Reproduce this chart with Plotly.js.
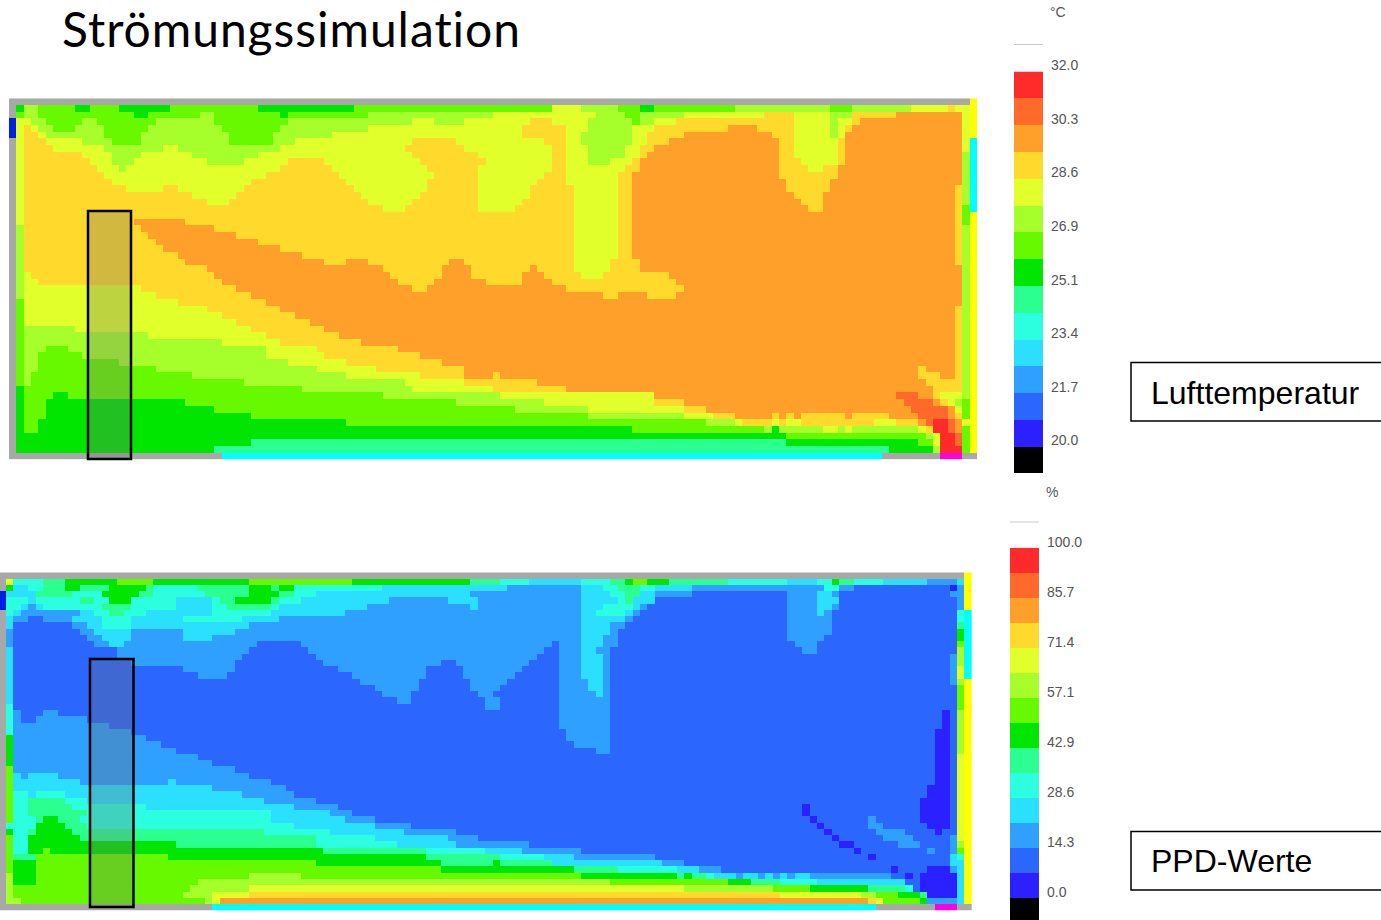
<!DOCTYPE html>
<html><head><meta charset="utf-8">
<script src="https://cdn.plot.ly/plotly-3.0.1.min.js"></script>
<style>html,body{margin:0;padding:0;background:#fff;overflow:hidden}#chart{width:1381px;height:920px}svg text{font-variant-ligatures:none;font-feature-settings:"liga" 0,"clig" 0,"dlig" 0,"calt" 0;letter-spacing:0.01px}.annotation[data-index="0"] text{letter-spacing:0.95px}</style>
</head><body><div id="chart"></div>
<script>
// Palette: a=black, b..o = 14 legend classes, z..v = wall/boundary colours
const LEVEL_LETTERS = "abcdefghijklmnozyxwv";
const LEVEL_COLORS = ["#000000","#2B20FF","#2B66FF","#2FA0FF","#2BE0FF","#2BFFE0","#2BFF90","#00E600","#66F900","#A6FF2B","#E0FF2B","#FFD92B","#FFA02B","#FF6A2B","#FF2B2B","#A8A8A8","#0020E0","#00FFFF","#FFFF00","#FF00E0"];
const COLS = 132;

// Each row: class letter followed by the column where that class starts
const airTemperatureRows = [
"z0 w131",
"z0 h1 j2 i4 h9 i11 h15 i22 h34 i47 k74 j78 i83 h86 i88 j99 i112 j115 k123 l128 k129 w131",
"z0 i1 j2 i4 h17 i19 j26 i28 h37 i38 j49 k66 j80 i84 j86 k92 l103 k107 j112 l115 m121 k130 w131",
"y0 k1 j3 i5 j10 i12 j20 i28 j38 k55 j58 k62 l71 k74 j79 i85 j86 k88 l91 k107 j112 k113 l115 m116 k130 w131",
"y0 k1 l2 k3 j4 i6 j9 i13 j19 i29 j37 k49 l70 k76 j79 k85 l88 m98 l102 k107 j112 k113 l114 m115 k130 w131",
"y0 k1 l2 k4 j5 i13 j18 i30 j36 k44 l70 k76 j78 k85 l87 m92 l104 k107 j112 k113 m114 k130 w131",
"z0 k1 l2 k5 j10 i14 j18 i30 j36 k39 l55 k61 l73 k76 j78 k85 l87 m90 l105 k107 l113 m114 k130 x131",
"z0 k1 l2 k6 j13 k21 j23 k37 l54 k62 l74 k76 j79 k84 l86 m88 l105 k107 l113 m114 k130 x131",
"z0 k1 l2 k10 j14 k18 j25 k34 l55 k64 l74 k76 j79 k84 l86 m87 l105 k107 l113 m114 j130 x131",
"z0 k1 l2 k11 j14 k17 j27 k32 l38 k43 l56 k65 l74 k76 j79 k82 l85 m86 l105 k108 l113 m114 j130 x131",
"z0 k1 l2 k12 j15 k16 l37 k44 l57 k64 l74 k76 l84 m86 l105 k109 l111 m113 j130 x131",
"z0 k1 l2 k13 l35 k45 l58 k64 l73 k76 l83 m85 l105 m113 j130 x131",
"z0 k1 l2 k14 l33 k46 l57 k64 l72 k76 l83 m85 l106 m112 j130 x131",
"z0 k1 l2 k16 l21 k23 l32 k47 l57 k64 l71 k77 l83 m85 l106 m112 l129 j130 x131",
"z0 k1 l2 k25 l31 k48 l56 k64 l71 k77 l83 m85 l107 m111 l129 j130 x131",
"z0 k1 l2 k27 l30 k49 l55 k64 l70 k77 l83 m85 l108 m111 l129 j130 x131",
"z0 k1 l2 k51 l54 k64 l69 k77 l83 m85 l109 m111 l129 i130 x131",
"z0 k1 l2 k77 l83 m85 l129 i130 w131",
"z0 k1 l2 m17 l24 k77 l83 m85 l129 i130 w131",
"z0 j1 l2 m18 l28 k77 l83 m85 l129 j130 w131",
"z0 j1 l2 m19 l31 k77 l83 m85 l129 j130 w131",
"z0 j1 l2 m20 l34 k77 l83 m85 l129 j130 w131",
"z0 j1 l2 m21 l37 k77 l83 m85 l129 j130 w131",
"z0 j1 l2 m23 l40 k77 l83 m85 l129 j130 w131",
"z0 j1 l2 m24 l43 m46 l49 m60 l62 k77 l82 m86 l129 j130 w131",
"z0 j1 l2 m27 l51 m59 l63 m71 l72 k77 l82 m86 j130 w131",
"z0 j1 k2 l3 m28 l52 m59 l63 m70 l73 k78 l81 m90 j130 w131",
"z0 j1 k2 l4 m29 l53 m58 l65 m70 l74 m91 j130 w131",
"z0 j1 k2 l18 m31 l55 m57 l76 m92 j130 w131",
"z0 j1 k2 l20 m33 l81 m83 l87 m91 j130 w131",
"z0 i1 k2 l23 m35 j130 w131",
"z0 i1 k2 l27 m37 l129 j130 w131",
"z0 i1 k2 l29 m39 l129 j130 w131",
"z0 i1 k2 l31 m41 l129 j130 w131",
"z0 i1 j2 k9 l33 m43 l129 j130 w131",
"z0 i1 j2 k19 l35 m45 l129 j130 w131",
"z0 i1 j2 k29 l37 m48 l129 j130 w131",
"z0 i1 j2 i5 j8 k35 l42 m53 l129 j130 w131",
"z0 i1 j2 i4 j10 k35 l43 m56 l129 j130 w131",
"z0 i1 j2 i4 j15 k38 l46 m59 l129 j130 w131",
"z0 i1 j2 i4 j20 k42 l50 m62 l124 m125 l129 j130 w131",
"z0 i1 j2 i3 j25 k46 l56 m62 l66 m67 l124 m127 l129 j130 w131",
"z0 i1 j2 i3 j32 k54 l62 m72 l125 j130 w131",
"z0 h1 i2 j40 k55 l66 m76 l126 j130 w131",
"z0 h1 i2 h6 i8 j51 k67 m88 n121 m124 l126 k127 j130 w131",
"z0 h1 i2 h5 i24 j61 k73 l88 m92 n122 m126 l127 k128 j129 i130 w131",
"z0 h1 i2 h5 i28 j69 k79 l92 m95 n123 m128 k129 i130 w131",
"z0 h1 i2 h5 i33 j79 k92 l96 m99 l104 m105 l106 m107 l108 m114 l115 m120 n124 m128 l129 i130 w131",
"z0 h1 i2 h4 i46 j95 k99 l100 k104 l105 k106 l108 k118 l121 m124 n125 o126 n128 m129 k130 w131",
"z0 h1 i2 h4 i85 j103 h104 j105 k111 j113 k114 j115 k124 l125 o126 n128 m129 i130 w131",
"z0 h1 i106 j125 k126 o127 n129 i130 w131",
"z0 h1 g33 h106 i124 k126 o127 n129 i130 w131",
"z0 h1 g28 h120 j126 o127 i130 w131",
"z0 x29 z119 v127 z130"
];

const ppdRows = [
"z0 w131",
"z0 k1 f2 g6 h9 i16 h21 i34 h48 g64 f68 e72 f79 g83 h85 i86 h88 g91 f99 e107 f111 h113 g114 f116 e120 d126 e130 w131",
"z0 h1 e2 f4 g6 h9 g11 h15 g20 f21 g27 h34 g37 h38 f40 e52 d69 e79 f82 g84 f87 e89 d94 f112 d114 c116 b129 d130 w131",
"y0 e1 g5 f10 h14 g19 f21 g28 h34 g38 f40 e43 d64 e79 f83 g85 e87 d89 c94 d107 e111 d113 c114 d129 w131",
"y0 f1 e4 f5 g11 f13 h15 f18 e24 f29 g30 h32 g37 f38 e41 d53 e61 d65 e79 f84 g85 e86 c89 d107 e111 c114 d130 w131",
"y0 f1 e3 d4 e5 f6 g14 f18 e24 f29 g31 f37 e38 d50 e64 d65 e79 f82 e86 d87 c88 d107 e111 d113 c114 d130 w131",
"z0 f1 e2 d3 e11 f13 g15 f17 e20 f29 e37 d47 e79 f81 e85 d86 c87 d107 e111 d112 c113 f130 x131",
"z0 e1 d2 c4 d6 e10 f14 e18 f25 e33 d38 e79 d85 c86 d107 c113 f130 x131",
"z0 e1 c2 d10 e12 f14 e18 d34 e79 d83 c85 d107 c113 g130 x131",
"z0 d1 c2 d11 e13 d18 e25 d32 e79 d83 c84 d107 c113 h130 x131",
"z0 d1 c2 d12 e14 d18 e25 d29 e79 d82 c84 d107 c112 h130 x131",
"z0 d1 c2 d13 e15 d17 c35 d41 c75 d76 e79 d82 c84 d108 c111 i130 x131",
"z0 e1 c2 d16 c34 d42 c74 d76 e79 d81 c83 d109 c111 j130 x131",
"z0 e1 c2 d16 c33 d43 c73 d76 e79 d82 c83 d129 j130 x131",
"z0 e1 c2 d18 c32 d44 c60 d62 c72 d76 e79 d82 c83 d129 j130 x131",
"z0 e1 c2 d25 c32 d46 c58 d63 c71 d76 e79 d82 c83 d129 k130 x131",
"z0 e1 c2 d27 c31 d48 c58 d63 c70 d76 e79 d82 c83 d129 k130 x131",
"z0 e1 c2 d49 c57 d64 c69 d76 e80 d82 c83 d129 j130 w131",
"z0 e1 c2 d51 c57 d64 c68 d76 e80 d82 c83 i130 w131",
"z0 e1 c2 d52 c56 d65 c67 d76 e81 d82 c83 i130 w131",
"z0 e1 c2 d54 c56 d66 c68 d76 c83 i130 w131",
"z0 f1 c2 d66 c68 d76 c83 i130 w131",
"z0 f1 d2 c3 d6 c8 d76 c83 b128 c129 j130 w131",
"z0 f1 d2 c3 d5 c12 d76 c83 b128 c129 j130 w131",
"z0 f1 d2 c15 d76 c83 b128 c129 j130 w131",
"z0 f1 d2 c18 d77 c83 b127 c129 j130 w131",
"z0 h1 d2 c20 d77 c83 b127 c129 j130 w131",
"z0 h1 d2 c22 d78 c83 b127 c129 j130 w131",
"z0 h1 d2 c24 d81 c83 b127 c129 j130 w131",
"z0 h1 d2 c27 b127 c129 k130 w131",
"z0 h1 d2 c29 b127 c129 k130 w131",
"z0 i1 d2 c32 b127 c129 k130 w131",
"z0 i1 e2 d3 e4 d8 c34 b127 c129 k130 w131",
"z0 i1 e2 d11 e23 d24 c37 b127 c129 k130 w131",
"z0 i1 e2 d29 c39 b126 c129 k130 w131",
"z0 i1 f2 e4 f5 e9 d33 c40 b126 c129 k130 w131",
"z0 i1 f2 g4 f9 e12 d36 c43 b125 c129 k130 w131",
"z0 i1 f2 g4 f10 e20 d40 c46 b109 c110 b125 c129 k130 w131",
"z0 i1 f2 g4 f12 e37 d45 c48 b109 c110 b125 c129 k130 w131",
"z0 i1 f2 g5 h6 g8 f11 e37 d47 c51 b110 c111 d118 c119 b125 c129 k130 w131",
"z0 f1 h5 g9 f12 e40 d51 c56 b111 c112 d118 c120 b126 c129 k130 w131",
"z0 h1 f2 g4 h5 g10 f36 e45 d55 c62 b112 c113 d119 c123 b127 c128 k130 w131",
"z0 i1 f2 h4 g11 f43 e51 d61 c65 b113 c114 d120 c124 d129 k130 w131",
"z0 i1 f2 h4 g24 f43 e54 d62 c72 b114 c116 d122 c125 d129 j130 w131",
"z0 i1 f2 h4 i6 h7 g44 f58 e66 d71 c79 b116 c117 d126 c127 d129 i130 w131",
"z0 i1 g2 i5 h23 g58 f68 e74 d78 c89 b118 c119 e129 f130 w131",
"z0 i1 h2 i5 h43 g60 h67 g68 e75 d90 c93 e129 w131",
"z0 i1 h2 i5 h60 g78 f84 e92 d95 c98 b121 c122 b126 d129 e130 w131",
"z0 j1 h2 i5 j34 i41 h79 g92 h93 g94 f96 e97 d100 e101 d103 e104 d105 e106 d107 e108 d110 c121 b123 c124 b125 e130 w131",
"z0 j1 h2 i5 j27 i83 h99 g102 f106 e111 c123 b125 e130 w131",
"z0 j1 i2 j26 k34 j93 i105 h110 g118 f123 c124 b125 e130 w131",
"z0 j1 i2 j25 k29 l34 k106 j117 i119 h122 g125 b126 e130 w131",
"z0 j1 i3 j28 k29 m30 l118 k119 i120 h125 d126 e130 w131",
"z0 x29 z119 v127 z130"
];

const tempLegendLevels = [0,1,2,3,4,5,6,7,8,9,10,11,12,13,14];
const tempTickPositions = [0.5,2.5,4.5,6.5,8.5,10.5,12.5,14.5];
const tempTickLabels = ["20.0","21.7","23.4","25.1","26.9","28.6","30.3","32.0"];
const ppdTickLabels = ["0.0","14.3","28.6","42.9","57.1","71.4","85.7","100.0"];

function decodeRows(rows){
  return rows.map(r=>{
    const t=r.split(" ").map(s=>[LEVEL_LETTERS.indexOf(s[0]),+s.slice(1)]);
    const out=new Array(COLS);
    t.forEach((p,i)=>{const end=i+1<t.length?t[i+1][1]:COLS;for(let c=p[1];c<end;c++)out[c]=p[0];});
    return out;
  });
}
const W=1381,H=920;
const X=p=>p/W, Y=p=>1-p/H;
const scale=[];
LEVEL_COLORS.forEach((c,i)=>{scale.push([i/LEVEL_COLORS.length,c]);scale.push([(i+1)/LEVEL_COLORS.length,c]);});
const heat=(z,xa,ya)=>({type:"heatmap",z:z,xaxis:xa,yaxis:ya,colorscale:scale,zmin:-0.5,zmax:LEVEL_COLORS.length-0.5,showscale:false,hoverinfo:"skip",xgap:0,ygap:0});
const hidden=(dom,rng,anchor)=>({domain:dom,range:rng,visible:false,fixedrange:true,anchor:anchor});
const legendAxis=(dom,rng,anchor,labels,shift,standoff)=>({domain:dom,range:rng,anchor:anchor,side:"right",fixedrange:true,showgrid:false,zeroline:false,showline:false,ticks:"",
  tickmode:"array",tickvals:tempTickPositions,ticktext:labels,ticklabelshift:shift,ticklabelstandoff:standoff,tickfont:{family:"Liberation Sans",size:14,color:"#555"}});
const legendColumn=tempLegendLevels.map(v=>[v]);
const rect=(x0,x1,y0,y1,extra)=>Object.assign({type:"rect",xref:"paper",yref:"paper",x0:X(x0),x1:X(x1),y0:Y(y1),y1:Y(y0),layer:"above"},extra);
const note=(x,y,text,size,family,color)=>({xref:"paper",yref:"paper",x:X(x),y:Y(y),xanchor:"left",yanchor:"middle",showarrow:false,text:text,font:{family:family,size:size,color:color}});
const layout={
  width:W,height:H,margin:{l:0,r:0,t:0,b:0},paper_bgcolor:"#fff",plot_bgcolor:"#fff",showlegend:false,
  xaxis:hidden([X(9),X(977)],[-0.5,131.5],"y"),
  yaxis:hidden([Y(459.6),Y(98.3)],[53.5,-0.5],"x"),
  xaxis2:hidden([0,X(972)],[-0.32,131.5],"y2"),
  yaxis2:hidden([Y(910.7),Y(572.3)],[53.5,-0.5],"x2"),
  xaxis3:hidden([X(1014),X(1043)],[-0.5,0.5],"y3"),
  yaxis3:legendAxis([Y(473),Y(71.5)],[-0.5,14.5],"x3",tempTickLabels,-6,7),
  xaxis4:hidden([X(1010),X(1039)],[-0.5,0.5],"y4"),
  yaxis4:legendAxis([0,Y(547.7)],[-0.39,14.5],"x4",ppdTickLabels,-6,7),
  shapes:[
    rect(88,131,211,459,{fillcolor:"rgba(110,110,110,0.3)",line:{color:"#000",width:2.5}}),
    rect(90,133.5,659,907,{fillcolor:"rgba(110,110,110,0.3)",line:{color:"#000",width:2.5}}),
    {type:"line",xref:"paper",yref:"paper",x0:X(1014),x1:X(1043),y0:Y(44.5),y1:Y(44.5),line:{color:"#c8c8c8",width:1}},
    {type:"line",xref:"paper",yref:"paper",x0:X(1010),x1:X(1039),y0:Y(522),y1:Y(522),line:{color:"#c8c8c8",width:1}},
    rect(1131,1386,362.5,421,{line:{color:"#000",width:1.5}}),
    rect(1131,1386,831.5,890,{line:{color:"#000",width:1.5}})
  ],
  annotations:[
    note(69,29,"Strömungssimulation",48,"Lato","#000"),
    note(1048,12,"°C",14,"Liberation Sans","#555"),
    note(1044,492,"%",14,"Liberation Sans","#555"),
    note(1149,393,"Lufttemperatur",32,"Liberation Sans","#000"),
    note(1149,861,"PPD-Werte",32,"Liberation Sans","#000")
  ]
};
Plotly.newPlot("chart",[
  heat(decodeRows(airTemperatureRows),"x","y"),
  heat(decodeRows(ppdRows),"x2","y2"),
  heat(legendColumn,"x3","y3"),
  heat(legendColumn,"x4","y4")
],layout,{staticPlot:true,displayModeBar:false});
</script></body></html>
